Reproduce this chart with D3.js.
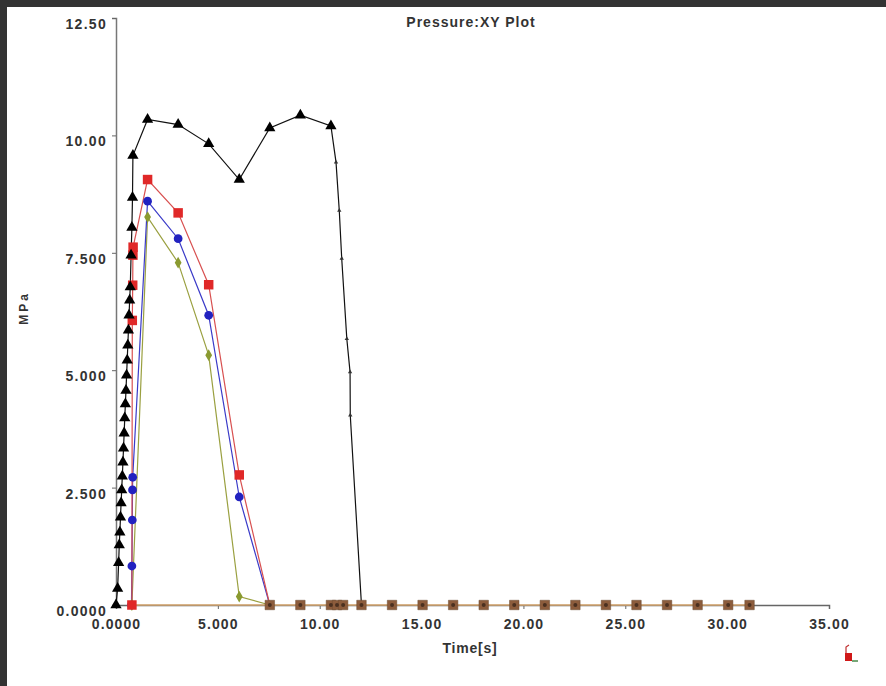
<!DOCTYPE html>
<html>
<head>
<meta charset="utf-8">
<script src="https://cdn.jsdelivr.net/npm/d3@7"></script>
<style>
html, body { margin: 0; padding: 0; background: #fff; }
svg { display: block; }
text { font-family: "Liberation Sans", Arial, sans-serif; font-weight: bold; fill: #333; }
</style>
</head>
<body>
<svg id="chart" width="886" height="686"></svg>
<script>
'use strict';

// Axis ticks
var xTicks = [0, 5, 10, 15, 20, 25, 30, 35];
var xTickLabels = ['0.0000', '5.000', '10.00', '15.00', '20.00', '25.00', '30.00', '35.00'];
var yTicks = [0, 2.5, 5, 7.5, 10, 12.5];
var yTickLabels = ['0.0000', '2.500', '5.000', '7.500', '10.00', '12.50'];

// Black series (triangles): fill ramp, packing plateau, fast decay
var blackFillTime = [0.00, 0.08, 0.13, 0.16, 0.19, 0.22, 0.25, 0.28, 0.31, 0.34, 0.37, 0.40, 0.43,
  0.46, 0.49, 0.52, 0.55, 0.58, 0.61, 0.64, 0.67, 0.70, 0.74, 0.78, 0.81, 0.83];
var blackFillPress = [0.00, 0.35, 0.90, 1.28, 1.55, 1.87, 2.17, 2.45, 2.74, 3.04, 3.34, 3.66, 3.98,
  4.28, 4.57, 4.89, 5.21, 5.53, 5.85, 6.17, 6.49, 6.77, 7.45, 8.04, 8.68, 9.57];
var blackPackTime = [1.55, 3.05, 4.55, 6.05, 7.55, 9.05, 10.55];
var blackPackPress = [10.34, 10.23, 9.82, 9.06, 10.16, 10.43, 10.20];
var blackDropTime = [10.80, 10.96, 11.08, 11.33, 11.49, 11.50, 12.05];
var blackDropPress = [9.43, 8.40, 7.38, 5.67, 4.96, 4.04, 0.00];

// Red series (squares)
var redTime = [0.78, 0.80, 0.82, 0.83, 0.84, 1.55, 3.05, 4.55, 6.05, 7.55];
var redPress = [0.00, 6.06, 6.81, 7.45, 7.62, 9.06, 8.35, 6.82, 2.77, 0.00];

// Blue series (circles)
var blueTime = [0.76, 0.78, 0.80, 0.81, 0.82, 1.55, 3.05, 4.55, 6.05, 7.55];
var bluePress = [0.00, 0.83, 1.81, 2.45, 2.72, 8.60, 7.80, 6.17, 2.30, 0.00];

// Green series (diamonds)
var greenTime = [0.78, 1.55, 3.05, 4.55, 6.05, 7.55];
var greenPress = [0.00, 8.26, 7.29, 5.32, 0.18, 0.00];

// Times where every series sits at zero (overlapping markers)
var tailTime = [7.55, 9.05, 10.55, 10.85, 11.15, 12.05, 13.55, 15.05, 16.55, 18.05, 19.55,
  21.05, 22.55, 24.05, 25.55, 27.05, 28.55, 30.05, 31.10];

var width = 886, height = 686;
var svg = d3.select('#chart');

// dark frame on top and left
svg.append('rect').attr('x', 0).attr('y', 0).attr('width', width).attr('height', 7).attr('fill', '#333');
svg.append('rect').attr('x', 0).attr('y', 0).attr('width', 7).attr('height', height).attr('fill', '#333');

var x = d3.scaleLinear().domain([0, 35]).range([116, 829]);
var y = d3.scaleLinear().domain([0, 12.5]).range([605, 18]);

function pts(ts, ps) {
  return ts.map(function(t, i) { return [t, ps[i]]; });
}

var line = d3.line().x(function(d) { return x(d[0]); }).y(function(d) { return y(d[1]); });

// axes
var xAxis = d3.axisBottom(x).tickValues(xTicks).tickSize(4)
  .tickFormat(function(d, i) { return xTickLabels[i]; });
var gx = svg.append('g').attr('transform', 'translate(0,' + y(0) + ')').call(xAxis);
gx.select('.domain').attr('stroke', '#666').attr('stroke-width', 1.5);
gx.selectAll('.tick line').attr('stroke', '#666');
gx.selectAll('.tick text').attr('dy', '1.2em').style('font-size', '14px')
  .style('letter-spacing', '1.1px').attr('fill', '#333');

var yAxis = d3.axisLeft(y).tickValues(yTicks).tickSize(4)
  .tickFormat(function(d, i) { return yTickLabels[i]; });
var gy = svg.append('g').attr('transform', 'translate(' + x(0) + ',0)').call(yAxis);
gy.select('.domain').attr('stroke', '#777').attr('stroke-width', 1.5);
gy.selectAll('.tick line').attr('stroke', '#666');
gy.selectAll('.tick text').attr('x', -9).attr('dy', '0.75em').style('font-size', '14px')
  .style('letter-spacing', '1.3px').attr('fill', '#333');

// titles
svg.append('text').attr('x', 471).attr('y', 27).attr('text-anchor', 'middle')
  .style('font-size', '14px').style('letter-spacing', '1px').text('Pressure:XY Plot');
svg.append('text').attr('x', 470).attr('y', 653).attr('text-anchor', 'middle')
  .style('font-size', '14px').style('letter-spacing', '0.8px').text('Time[s]');
svg.append('text').attr('transform', 'translate(28,308) rotate(-90)').attr('text-anchor', 'middle')
  .style('font-size', '12px').style('letter-spacing', '3px').text('MPa');

var plot = svg.append('g');

// zero tail line
var tailPts = tailTime.map(function(t) { return [t, 0]; });
plot.append('path').datum(pts([0.76].concat(tailTime), [0].concat(tailTime.map(function() { return 0; }))))
  .attr('d', line).attr('fill', 'none').attr('stroke', '#d8a870').attr('stroke-width', 1.5);

var blackAll = pts(blackFillTime, blackFillPress)
  .concat(pts(blackPackTime, blackPackPress))
  .concat(pts(blackDropTime, blackDropPress));

var series = [
  { data: pts(greenTime, greenPress), color: '#9aa040' },
  { data: pts(blueTime, bluePress), color: '#3a3ac8' },
  { data: pts(redTime, redPress), color: '#d85050' },
  { data: blackAll, color: '#111' }
];

series.forEach(function(s) {
  plot.append('path').datum(s.data).attr('d', line)
    .attr('fill', 'none').attr('stroke', s.color).attr('stroke-width', 1.2);
});

var tri = d3.symbol().type(d3.symbolTriangle).size(55);
var triSmall = d3.symbol().type(d3.symbolTriangle).size(8);
var sq = d3.symbol().type(d3.symbolSquare).size(90);
var circ = d3.symbol().type(d3.symbolCircle).size(60);
var dia = d3.symbol().type(d3.symbolDiamond).size(40);

function markers(data, gen, fill, stroke) {
  plot.append('g').selectAll('path').data(data).join('path')
    .attr('transform', function(d) { return 'translate(' + x(d[0]) + ',' + y(d[1]) + ')'; })
    .attr('d', gen).attr('fill', fill).attr('stroke', stroke || 'none').attr('stroke-width', 0.5);
}

markers(pts(greenTime.slice(0, -1), greenPress.slice(0, -1)), dia, '#8a9a30');
markers(pts(blueTime.slice(0, -1), bluePress.slice(0, -1)), circ, '#2222c0');
markers(pts(redTime.slice(0, -1), redPress.slice(0, -1)), sq, '#e02828');
markers(pts(blackFillTime, blackFillPress), tri, '#000');
markers(pts(blackPackTime, blackPackPress), tri, '#000');
markers(pts(blackDropTime.slice(0, -1), blackDropPress.slice(0, -1)), triSmall, '#333');

// overlapped zero markers
markers(tailPts, sq, '#8c5c3c', '#6a4a30');
plot.append('g').selectAll('circle').data(tailPts).join('circle')
  .attr('cx', function(d) { return x(d[0]); }).attr('cy', function(d) { return y(d[1]); })
  .attr('r', 2).attr('fill', '#4a3020');

// small logo bottom right
var logo = svg.append('g').attr('transform', 'translate(843,645)');
logo.append('path').attr('d', 'M2,8 L9,8 L9,16 L2,16 Z').attr('fill', '#d01818');
logo.append('path').attr('d', 'M3,8 L3,2 L6,0').attr('fill', 'none').attr('stroke', '#c03030').attr('stroke-width', 1.2);
logo.append('path').attr('d', 'M9,16 L15,16').attr('stroke', '#4a8a4a').attr('stroke-width', 1.5);
</script>
</body>
</html>
